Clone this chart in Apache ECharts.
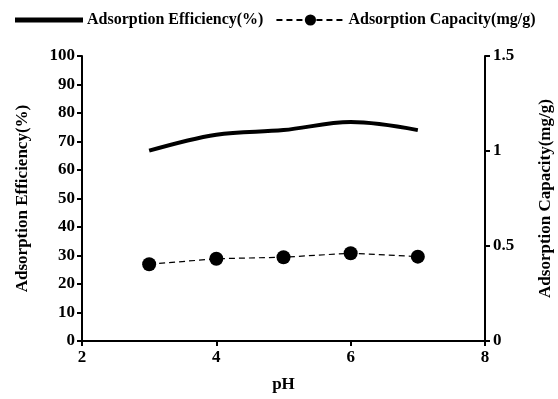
<!DOCTYPE html>
<html><head><meta charset="utf-8">
<script src="https://cdn.jsdelivr.net/npm/echarts@6/dist/echarts.min.js"></script>
<style>html,body{margin:0;padding:0;background:#fff}#c{width:558px;height:399px}</style>
</head><body><div id="c"></div>
<script>
const pH = [3, 4, 5, 6, 7];
const efficiency = [66.8, 72.4, 74.0, 76.8, 74.0];
const capacity = [0.404, 0.433, 0.441, 0.462, 0.444];
const xTicks = [2, 4, 6, 8];
const F = '"Liberation Serif","Times New Roman",serif';
const txt = {fontFamily: F, fontWeight: 'bold', fontSize: 17, color: '#000'};
const axLine = {show: true, lineStyle: {color: '#000', width: 2}};
const tick = {show: true, length: 5, lineStyle: {color: '#000', width: 2}};
const ch = echarts.init(document.getElementById('c'));
ch.setOption({
  animation: false,
  grid: {left: 82, right: 73, top: 56, bottom: 58, containLabel: false, outerBoundsMode: 'none'},
  legend: {
    top: 12, left: 15, padding: 0, itemWidth: 68, itemHeight: 14, itemGap: 12,
    textStyle: Object.assign({}, txt, {fontSize: 16, padding: [0, 0, 0, -1]}),
    data: [
      {name: 'Adsorption Efficiency(%)', icon: 'path://M0,0 L68,0 L68,5 L0,5 Z'},
      {name: 'Adsorption Capacity(mg/g)'}
    ]
  },
  xAxis: {
    type: 'value', min: xTicks[0], max: xTicks[xTicks.length - 1], interval: 2,
    name: 'pH', nameLocation: 'middle', nameGap: 35, nameTextStyle: txt,
    axisLine: axLine, axisTick: tick,
    axisLabel: Object.assign({}, txt, {margin: 8}), splitLine: {show: false}
  },
  yAxis: [{
    type: 'value', min: 0, max: 100, interval: 10, position: 'left',
    name: 'Adsorption Efficiency(%)', nameLocation: 'middle', nameGap: 51, nameTextStyle: txt,
    axisLine: axLine, axisTick: tick,
    axisLabel: Object.assign({}, txt, {margin: 7}), splitLine: {show: false}
  }, {
    type: 'value', min: 0, max: 1.5, interval: 0.5, position: 'right',
    name: 'Adsorption Capacity(mg/g)', nameLocation: 'middle', nameGap: 52, nameTextStyle: txt,
    axisLine: axLine, axisTick: tick,
    axisLabel: Object.assign({}, txt, {margin: 8}), splitLine: {show: false}
  }],
  series: [{
    name: 'Adsorption Efficiency(%)', type: 'line', yAxisIndex: 0, smooth: 0.35,
    symbol: 'none', lineStyle: {color: '#000', width: 4},
    itemStyle: {color: '#000'},
    data: pH.map((x, i) => [x, efficiency[i]])
  }, {
    name: 'Adsorption Capacity(mg/g)', type: 'line', yAxisIndex: 1,
    symbol: 'circle', symbolSize: 14,
    lineStyle: {color: '#000', width: 1.2, type: [6, 4]},
    itemStyle: {color: '#000'},
    data: pH.map((x, i) => [x, capacity[i]])
  }]
});
</script></body></html>
